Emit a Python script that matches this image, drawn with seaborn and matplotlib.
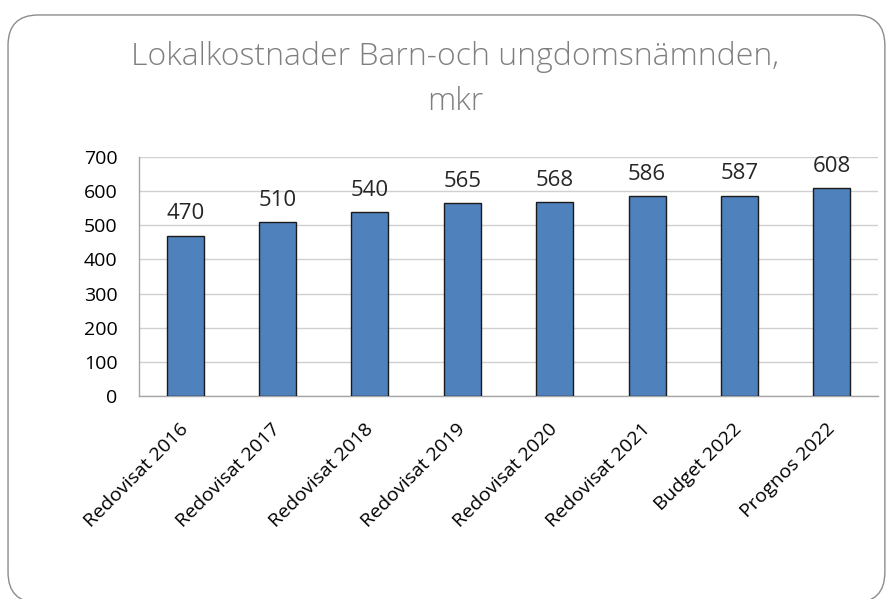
import matplotlib
matplotlib.use("Agg")
import matplotlib.pyplot as plt
import seaborn as sns
import pandas as pd
from matplotlib.patches import FancyBboxPatch

# Data
kategorier = ["Redovisat 2016", "Redovisat 2017", "Redovisat 2018", "Redovisat 2019",
              "Redovisat 2020", "Redovisat 2021", "Budget 2022", "Prognos 2022"]
kostnader = [470, 510, 540, 565, 568, 586, 587, 608]
y_ticks = [0, 100, 200, 300, 400, 500, 600, 700]

df = pd.DataFrame({"kategori": kategorier, "mkr": kostnader})

sns.set_style("white")
plt.rcParams["font.family"] = ["Open Sans", "DejaVu Sans"]

fig = plt.figure(figsize=(8.92, 5.99), dpi=100)

# rounded frame around the chart
ram = FancyBboxPatch((0.009, -0.006), 0.983, 0.981, boxstyle="round,pad=0,rounding_size=0.034",
                     transform=fig.transFigure, facecolor="white", edgecolor="#8c8c8c",
                     linewidth=1.0, mutation_aspect=892 / 599, zorder=-1)
fig.patches.append(ram)

ax = fig.add_axes([0.1558, 0.3389, 0.8285, 0.399])
ax.patch.set_alpha(0)
sns.barplot(data=df, x="kategori", y="mkr", color="#4F81BD", width=0.4,
            edgecolor="#1a1a1a", linewidth=1.0, saturation=1, ax=ax, zorder=3)

ax.set_ylim(0, 700)
ax.set_yticks(y_ticks)
ax.set_xlim(-0.5, len(kategorier) - 0.5)
ax.grid(axis="y", color="#d0d0d0", linewidth=1.0, zorder=0)
ax.set_axisbelow(True)
for s in ["top", "right"]:
    ax.spines[s].set_visible(False)
for s in ["left", "bottom"]:
    ax.spines[s].set_color("#a6a6a6")
    ax.spines[s].set_linewidth(1.0)
ax.tick_params(axis="both", length=0, labelsize=14, colors="black")
ax.tick_params(axis="y", pad=15.5)
ax.set_xlabel("")
ax.set_ylabel("")
plt.setp(ax.get_xticklabels(), rotation=45, ha="right", va="center",
         rotation_mode="anchor", fontsize=14)
ax.tick_params(axis="x", pad=22)

for i, v in enumerate(kostnader):
    ax.annotate(str(v), (i, v), xytext=(0, 8), textcoords="offset points",
                ha="center", va="bottom", fontsize=16)

fig.text(0.51, 0.868, "Lokalkostnader Barn-och ungdomsnämnden,\nmkr", ha="center", va="center",
         fontsize=23, color="#7f7f7f", fontweight="light", linespacing=1.54)

fig.savefig("out.png", dpi=100)
